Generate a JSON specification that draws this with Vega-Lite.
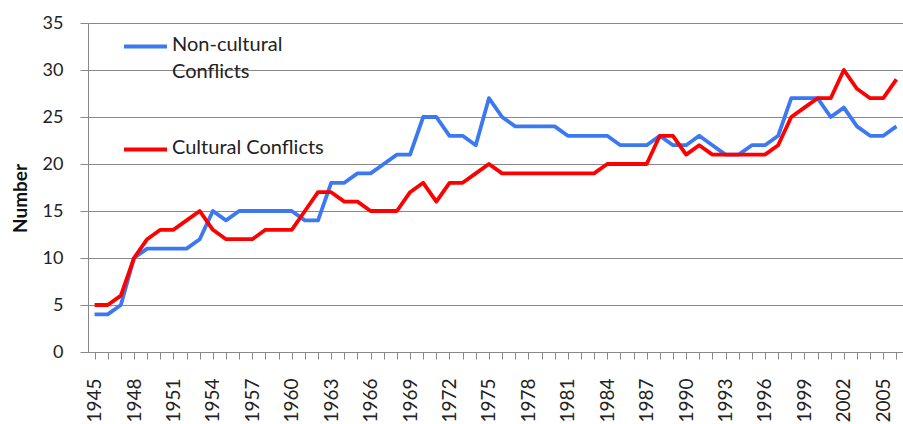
{
  "$schema": "https://vega.github.io/schema/vega-lite/v6.json",
  "autosize": {"type": "none"},
  "width": 815,
  "height": 329,
  "padding": {"left": 88, "top": 23, "right": 0, "bottom": 72},
  "background": "white",
  "config": {"view": {"stroke": null}, "font": "Lato", "style": {"guide-label": {"lineHeight": 27, "dy": 4}}},
  "data": {"values": [
    {"year":1945,"Non-cultural Conflicts":4,"Cultural Conflicts":5},
    {"year":1946,"Non-cultural Conflicts":4,"Cultural Conflicts":5},
    {"year":1947,"Non-cultural Conflicts":5,"Cultural Conflicts":6},
    {"year":1948,"Non-cultural Conflicts":10,"Cultural Conflicts":10},
    {"year":1949,"Non-cultural Conflicts":11,"Cultural Conflicts":12},
    {"year":1950,"Non-cultural Conflicts":11,"Cultural Conflicts":13},
    {"year":1951,"Non-cultural Conflicts":11,"Cultural Conflicts":13},
    {"year":1952,"Non-cultural Conflicts":11,"Cultural Conflicts":14},
    {"year":1953,"Non-cultural Conflicts":12,"Cultural Conflicts":15},
    {"year":1954,"Non-cultural Conflicts":15,"Cultural Conflicts":13},
    {"year":1955,"Non-cultural Conflicts":14,"Cultural Conflicts":12},
    {"year":1956,"Non-cultural Conflicts":15,"Cultural Conflicts":12},
    {"year":1957,"Non-cultural Conflicts":15,"Cultural Conflicts":12},
    {"year":1958,"Non-cultural Conflicts":15,"Cultural Conflicts":13},
    {"year":1959,"Non-cultural Conflicts":15,"Cultural Conflicts":13},
    {"year":1960,"Non-cultural Conflicts":15,"Cultural Conflicts":13},
    {"year":1961,"Non-cultural Conflicts":14,"Cultural Conflicts":15},
    {"year":1962,"Non-cultural Conflicts":14,"Cultural Conflicts":17},
    {"year":1963,"Non-cultural Conflicts":18,"Cultural Conflicts":17},
    {"year":1964,"Non-cultural Conflicts":18,"Cultural Conflicts":16},
    {"year":1965,"Non-cultural Conflicts":19,"Cultural Conflicts":16},
    {"year":1966,"Non-cultural Conflicts":19,"Cultural Conflicts":15},
    {"year":1967,"Non-cultural Conflicts":20,"Cultural Conflicts":15},
    {"year":1968,"Non-cultural Conflicts":21,"Cultural Conflicts":15},
    {"year":1969,"Non-cultural Conflicts":21,"Cultural Conflicts":17},
    {"year":1970,"Non-cultural Conflicts":25,"Cultural Conflicts":18},
    {"year":1971,"Non-cultural Conflicts":25,"Cultural Conflicts":16},
    {"year":1972,"Non-cultural Conflicts":23,"Cultural Conflicts":18},
    {"year":1973,"Non-cultural Conflicts":23,"Cultural Conflicts":18},
    {"year":1974,"Non-cultural Conflicts":22,"Cultural Conflicts":19},
    {"year":1975,"Non-cultural Conflicts":27,"Cultural Conflicts":20},
    {"year":1976,"Non-cultural Conflicts":25,"Cultural Conflicts":19},
    {"year":1977,"Non-cultural Conflicts":24,"Cultural Conflicts":19},
    {"year":1978,"Non-cultural Conflicts":24,"Cultural Conflicts":19},
    {"year":1979,"Non-cultural Conflicts":24,"Cultural Conflicts":19},
    {"year":1980,"Non-cultural Conflicts":24,"Cultural Conflicts":19},
    {"year":1981,"Non-cultural Conflicts":23,"Cultural Conflicts":19},
    {"year":1982,"Non-cultural Conflicts":23,"Cultural Conflicts":19},
    {"year":1983,"Non-cultural Conflicts":23,"Cultural Conflicts":19},
    {"year":1984,"Non-cultural Conflicts":23,"Cultural Conflicts":20},
    {"year":1985,"Non-cultural Conflicts":22,"Cultural Conflicts":20},
    {"year":1986,"Non-cultural Conflicts":22,"Cultural Conflicts":20},
    {"year":1987,"Non-cultural Conflicts":22,"Cultural Conflicts":20},
    {"year":1988,"Non-cultural Conflicts":23,"Cultural Conflicts":23},
    {"year":1989,"Non-cultural Conflicts":22,"Cultural Conflicts":23},
    {"year":1990,"Non-cultural Conflicts":22,"Cultural Conflicts":21},
    {"year":1991,"Non-cultural Conflicts":23,"Cultural Conflicts":22},
    {"year":1992,"Non-cultural Conflicts":22,"Cultural Conflicts":21},
    {"year":1993,"Non-cultural Conflicts":21,"Cultural Conflicts":21},
    {"year":1994,"Non-cultural Conflicts":21,"Cultural Conflicts":21},
    {"year":1995,"Non-cultural Conflicts":22,"Cultural Conflicts":21},
    {"year":1996,"Non-cultural Conflicts":22,"Cultural Conflicts":21},
    {"year":1997,"Non-cultural Conflicts":23,"Cultural Conflicts":22},
    {"year":1998,"Non-cultural Conflicts":27,"Cultural Conflicts":25},
    {"year":1999,"Non-cultural Conflicts":27,"Cultural Conflicts":26},
    {"year":2000,"Non-cultural Conflicts":27,"Cultural Conflicts":27},
    {"year":2001,"Non-cultural Conflicts":25,"Cultural Conflicts":27},
    {"year":2002,"Non-cultural Conflicts":26,"Cultural Conflicts":30},
    {"year":2003,"Non-cultural Conflicts":24,"Cultural Conflicts":28},
    {"year":2004,"Non-cultural Conflicts":23,"Cultural Conflicts":27},
    {"year":2005,"Non-cultural Conflicts":23,"Cultural Conflicts":27},
    {"year":2006,"Non-cultural Conflicts":24,"Cultural Conflicts":29}
  ]},
  "transform": [{"fold": ["Non-cultural Conflicts", "Cultural Conflicts"], "as": ["series", "value"]}],
  "mark": {"type": "line", "strokeWidth": 3.8, "strokeJoin": "round"},
  "encoding": {
    "x": {
      "field": "year", "type": "ordinal",
      "scale": {"paddingInner": 0, "paddingOuter": 0},
      "axis": {
        "title": null,
        "labelAngle": -90,
        "labelAlign": "right",
        "labelBaseline": "middle",
        "labelFontSize": 19,
        "labelColor": "#222",
        "labelFont": "Lato",
        "labelPadding": 19,
        "labelOffset": -4,
        "labelExpr": "(datum.value - 1945) % 3 == 0 ? datum.value : ''",
        "bandPosition": 0,
        "tickColor": "#888",
        "tickSize": 7,
        "domainColor": "#888",
        "labelOverlap": false,
        "grid": false
      }
    },
    "y": {
      "field": "value", "type": "quantitative",
      "scale": {"domain": [0, 35]},
      "axis": {
        "title": "Number",
        "titleFontSize": 19,
        "titleFontWeight": "bold",
        "titleColor": "#111",
        "titleFont": "Lato",
        "titleAngle": -90,
        "titleX": -68,
        "titleY": 175,
        "titleAlign": "center",
        "titleBaseline": "middle",
        "values": [0, 5, 10, 15, 20, 25, 30, 35],
        "labelFontSize": 18,
        "labelColor": "#222",
        "labelFont": "Lato",
        "labelPadding": 17,
        "labelOffset": -4,
        "tickColor": "#888",
        "tickSize": 8,
        "domainColor": "#888",
        "gridColor": "#888",
        "gridWidth": 1
      }
    },
    "color": {
      "field": "series", "type": "nominal",
      "scale": {"domain": ["Non-cultural Conflicts", "Cultural Conflicts"], "range": ["#3b78f2", "#ff0000"]},
      "legend": {
        "title": null,
        "orient": "none",
        "legendX": 34,
        "legendY": 0,
        "symbolType": "stroke",
        "symbolSize": 1849,
        "symbolStrokeWidth": 4,
        "labelFontSize": 20,
        "labelFont": "Lato",
        "labelColor": "#222",
        "labelOffset": 3,
        "labelLimit": 300,
        "rowPadding": 44,
        "labelBaseline": "alphabetic",
        "labelExpr": "datum.label == 'Non-cultural Conflicts' ? ['Non-cultural', 'Conflicts'] : datum.label"
      }
    }
  }
}
